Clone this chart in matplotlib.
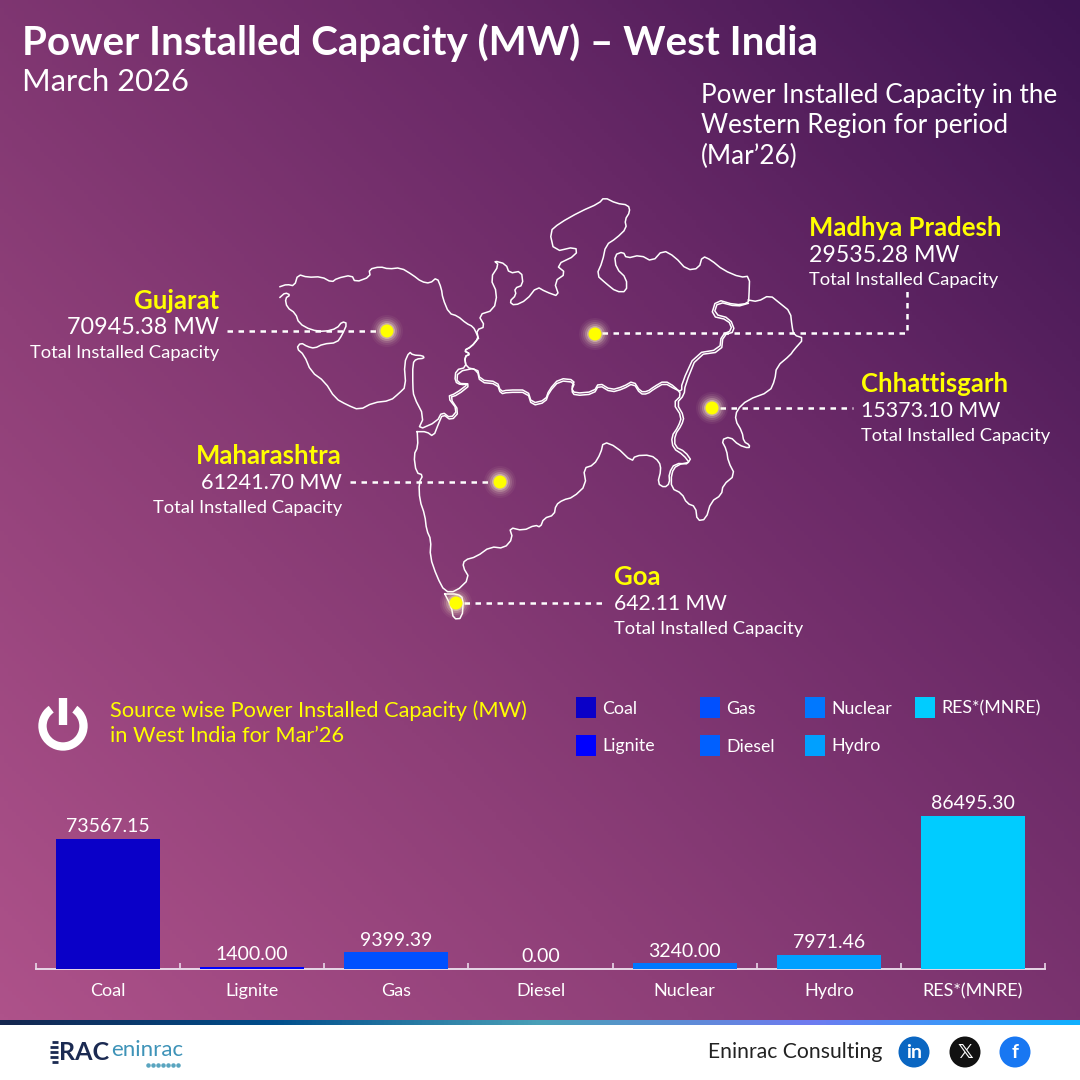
import numpy as np
import matplotlib
matplotlib.use("Agg")
import matplotlib.pyplot as plt
from matplotlib.colors import LinearSegmentedColormap
from matplotlib.patches import Arc, Circle, Rectangle

plt.rcParams["font.family"] = ["Lato", "DejaVu Sans"]

# -----------------------------
# Data
# -----------------------------
sources = ["Coal", "Lignite", "Gas", "Diesel", "Nuclear", "Hydro", "RES*(MNRE)"]
capacity = [73567.15, 1400.00, 9399.39, 0.00, 3240.00, 7971.46, 86495.30]
capacity_labels = ["73567.15", "1400.00", "9399.39", "0.00", "3240.00", "7971.46", "86495.30"]
source_colors = ["#0A00C8", "#0000FF", "#0050FF", "#0060FF", "#0078FF", "#00A0FF", "#00CCFF"]

states = ["Gujarat", "Madhya Pradesh", "Chhattisgarh", "Maharashtra", "Goa"]
state_values = ["70945.38 MW", "29535.28 MW", "15373.10 MW", "61241.70 MW", "642.11 MW"]

# map outlines (crop coordinates)
gujarat = [(0,290),(20,283),(42,288),(52,253),(80,262),(120,260),(150,277),(165,265),(208,255),(218,277),
           (262,260),(258,238),(290,230),(315,237),(350,233),(385,255),(410,275),(435,280),(455,262),(468,295),
           (472,325),(490,370),(515,378),(540,400),(560,410),(570,430),(575,445),(555,470),(533,482),(552,492),
           (535,500),(540,532),(510,540),(507,575),(525,585),(548,580),(510,610),(485,620),(515,660),(495,685),
           (470,665),(455,695),(400,720),(418,680),(388,620),(385,590),(385,520),(395,507),(418,505),(415,497),
           (385,495),(375,485),(360,520),(365,590),(345,610),(320,632),(270,638),(230,660),(195,645),(160,625),
           (130,575),(90,545),(70,495),(48,475),(60,458),(80,470),(100,475),(125,462),(165,458),(180,435),
           (195,400),(180,395),(165,415),(130,425),(90,420),(55,400),(45,370),(20,352),(15,325),(30,315),
           (15,308),(0,322)]
maharashtra = [(398,725),(400,770),(388,795),(395,848),(415,855),(403,878),(405,930),(420,975),(425,1020),(438,1050),
               (435,1100),(455,1160),(478,1205),(510,1205),(550,1165),(530,1130),(535,1110),(570,1100),(610,1070),(650,1075),
               (675,1045),(665,1012),(705,1022),(740,1005),(755,1012),(765,985),(795,975),(800,945),(820,930),(850,922),
               (888,885),(880,835),(910,825),(930,790),(938,755),(975,770),(1020,815),(1030,797),(1075,795),(1100,815),
               (1105,840),(1095,880),(1115,893),(1130,880),(1128,850),(1145,820),(1190,822),(1170,795),(1140,775),(1135,740),
               (1155,710),(1165,680),(1140,640),(1165,615),(1145,590),(1115,572),(1085,590),(1065,605),(1045,605),(1025,572),
               (995,590),(960,600),(925,578),(910,605),(855,610),(845,595),(855,570),(810,565),(780,600),(770,630),
               (730,640),(718,600),(660,600),(640,605),(630,575),(580,570),(572,533),(515,545),(513,580),(555,582),
               (515,615),(492,622),(520,665),(497,692),(472,672),(460,700),(445,740),(425,725),(398,725)]
madhya_pradesh = [(575,445),(570,420),(595,410),(575,375),(620,360),(630,310),(610,265),(635,225),(620,212),(655,222),
                  (665,250),(700,243),(705,285),(680,295),(685,315),(665,335),(680,347),(715,330),(745,290),(770,305),
                  (810,320),(795,275),(830,250),(800,225),(860,195),(858,170),(795,185),(782,125),(810,100),(870,65),
                  (925,40),(940,22),(975,40),(1010,45),(1015,65),(1000,90),(1005,115),(975,145),(945,165),(935,215),
                  (918,255),(945,280),(975,305),(1005,305),(1005,265),(975,235),(970,195),(995,185),(1005,205),(1045,195),
                  (1080,215),(1110,180),(1145,200),(1180,240),(1215,235),(1225,198),(1250,210),(1285,240),(1335,262),(1362,258),
                  (1360,320),(1358,340),(1320,345),(1265,328),(1250,378),(1300,390),(1312,420),(1280,435),(1275,478),(1205,490),
                  (1165,580),(1165,605),(1145,597),(1115,579),(1085,597),(1065,612),(1045,612),(1025,579),(995,597),(960,607),
                  (925,585),(910,612),(855,617),(845,602),(855,577),(810,572),(780,607),(770,637),(730,647),(718,607),
                  (660,607),(640,612),(630,582),(580,577),(572,540),(540,532),(535,500),(552,492),(533,482),(555,470),(575,445)]
chhattisgarh = [(1358,330),(1385,335),(1420,315),(1450,340),(1480,365),(1485,410),(1490,435),(1520,445),(1490,480),(1480,495),
                (1440,530),(1435,570),(1420,605),(1355,630),(1325,660),(1320,690),(1340,725),(1345,755),(1362,765),(1360,775),
                (1330,765),(1305,740),(1280,750),(1295,780),(1300,815),(1320,855),(1285,885),(1280,915),(1250,935),(1235,988),
                (1210,992),(1205,950),(1180,940),(1165,910),(1135,895),(1135,850),(1150,825),(1195,815),(1175,785),(1145,770),
                (1145,735),(1165,705),(1172,680),(1150,640),(1172,615),(1175,585),(1210,495),(1280,485),(1285,435),(1320,425),
                (1305,385),(1258,372),(1270,335),(1325,350),(1358,340)]
goa = [(478,1212),(515,1212),(532,1225),(528,1285),(503,1287),(497,1250),(478,1212)]


def rounded(pts, rounds=1):
    # corner cutting so the traced outline loses its hard kinks
    pts = np.array(pts, dtype=float)
    for _ in range(rounds):
        a = pts[:-1] * 0.75 + pts[1:] * 0.25
        b = pts[:-1] * 0.25 + pts[1:] * 0.75
        mid = np.empty((a.shape[0] * 2, 2))
        mid[0::2] = a
        mid[1::2] = b
        pts = np.vstack([pts[:1], mid, pts[-1:]])
    return pts


# -----------------------------
# Background
# -----------------------------
fig = plt.figure(figsize=(10.8, 10.8), dpi=100)
ax = fig.add_axes([0, 0, 1, 1])
ax.axis("off")

bg_cmap = LinearSegmentedColormap.from_list("bg", ["#AE528A", "#8E3F78", "#6B2A68", "#3D1452"])
gx, gy = np.meshgrid(np.linspace(0, 1, 270), np.linspace(0, 1, 270))
# gy runs downward, so the gradient goes from bottom-left to top-right
ax.imshow(gx * 0.52 + (1 - gy) * 0.48, cmap=bg_cmap, extent=[0, 1080, 1025, 0], aspect="auto", zorder=0, vmin=0, vmax=1)

# footer
ax.add_patch(Rectangle((0, 1025), 1080, 55, color="white", zorder=1))
bar_cmap = LinearSegmentedColormap.from_list("strip", ["#14264F", "#004E8C", "#4AA0B8", "#6F7BF0", "#10B0FF"])
ax.imshow(np.linspace(0, 1, 540).reshape(1, -1), cmap=bar_cmap, extent=[0, 1080, 1025, 1020], aspect="auto", zorder=2)
ax.set_xlim(0, 1080)
ax.set_ylim(1080, 0)

# -----------------------------
# Titles
# -----------------------------
ax.text(22, 43, "Power Installed Capacity (MW) – West India", color="white", fontsize=29.1, fontweight="bold", va="center")
ax.text(22, 82, "March 2026", color="white", fontsize=22.2, va="center")
ax.text(701, 126, "Power Installed Capacity in the\nWestern Region for period\n(Mar’26)", color="white",
        fontsize=18.8, va="center", linespacing=1.27)

# -----------------------------
# Map
# -----------------------------
for shape in [gujarat, maharashtra, madhya_pradesh, chhattisgarh, goa]:
    pts = rounded(shape)
    ax.plot(280 + pts[:, 0] / 2.9, 190 + pts[:, 1] / 3, color="white", lw=1.1, solid_joinstyle="round", zorder=3)


def leader(xs, ys):
    ax.plot(xs, ys, color="white", lw=1.8, dashes=(2.2, 2.2), zorder=4)


leader([227, 380], [331, 331])
leader([602, 907, 907], [333, 333, 290])
leader([720, 853], [408, 408])
leader([350, 493], [482, 482])
leader([464, 607], [603, 603])

dots = [(387, 331), (595, 334), (712, 408), (500, 482), (456, 603)]
for dx, dy in dots:
    for r, a in [(16, 0.05), (14, 0.08), (12, 0.12), (10, 0.22), (8, 0.35)]:
        ax.add_patch(Circle((dx, dy), r, color="#FFF8D0", alpha=a, lw=0, zorder=5))
    ax.add_patch(Circle((dx, dy), 6.5, color="#FFFF00", lw=0, zorder=6))

value_sizes = [16.8, 16.7, 15.4, 15.6, 15.2]


def state_label(x, y, i, ha):
    ax.text(x, y + 1, states[i], color="#FFFF00", fontsize=18.5, fontweight="bold", ha=ha, va="center", zorder=7)
    ax.text(x, y + 28, state_values[i], color="white", fontsize=value_sizes[i], ha=ha, va="center", zorder=7)
    ax.text(x, y + 53, "Total Installed Capacity", color="white", fontsize=13.2, ha=ha, va="center", zorder=7)


state_label(219, 300, 0, "right")
state_label(809, 227, 1, "left")
state_label(861, 383, 2, "left")
state_label(342, 455, 3, "right")
state_label(614, 576, 4, "left")

# -----------------------------
# Source heading and legend
# -----------------------------
ax.add_patch(Arc((63, 726), 41, 41, theta1=-55, theta2=235, color="white", lw=6, zorder=3))
ax.plot([63, 63], [698, 725], color="white", lw=6, solid_capstyle="butt", zorder=3)
ax.text(110, 723, "Source wise Power Installed Capacity (MW)\nin West India for Mar’26", color="#FFFF00",
        fontsize=15.7, va="center", linespacing=1.3)

legend_x = [576, 576, 700, 700, 805, 805, 915]
legend_y = [697, 735, 697, 735, 697, 735, 697]
legend_order = ["Coal", "Lignite", "Gas", "Diesel", "Nuclear", "Hydro", "RES*(MNRE)"]
for name, lx, ly in zip(legend_order, legend_x, legend_y):
    ax.add_patch(Rectangle((lx, ly), 20, 21, color=source_colors[sources.index(name)], lw=0, zorder=3))
    ax.text(lx + 26, ly + 11.5, name, color="white", fontsize=12.8, va="center", zorder=3)

# -----------------------------
# Bars
# -----------------------------
ax_bar = fig.add_axes([36 / 1080, (1080 - 969) / 1080, 1009 / 1080, 190 / 1080])
ax_bar.patch.set_alpha(0)
x = np.arange(len(sources))
ax_bar.bar(x, capacity, width=0.72, color=source_colors, zorder=5)
ax_bar.set_xlim(-0.5, 6.5)
ax_bar.set_ylim(0, 107412)
for xi, value, label in zip(x, capacity, capacity_labels):
    ax_bar.text(xi, value + 2000, label, color="white", fontsize=14, ha="center", va="bottom")
ax_bar.set_xticks(x)
ax_bar.set_xticklabels(sources, color="white", fontsize=13)
ax_bar.tick_params(axis="x", length=0, pad=10)
ax_bar.set_yticks([])
for side in ["top", "left", "right"]:
    ax_bar.spines[side].set_visible(False)
ax_bar.spines["bottom"].set_color("#E8D8E8")
ax_bar.spines["bottom"].set_linewidth(1.4)
ax_bar.spines["bottom"].set_zorder(1)
# separator ticks between the categories
ax_bar.set_xticks(np.arange(-0.5, 7, 1), minor=True)
ax_bar.tick_params(axis="x", which="minor", length=4, width=1.2, color="#E8D8E8", direction="in")

# -----------------------------
# Footer content
# -----------------------------
ax.text(882, 1052, "Eninrac Consulting", color="#222222", fontsize=15.2, ha="right", va="center", zorder=3)
for cx, col, sym, family in [(914, "#0A66C2", "in", "Lato"), (965, "#111111", "𝕏", "DejaVu Sans"), (1015, "#1877F2", "f", "Lato")]:
    ax.add_patch(Circle((cx, 1052), 15.5, color=col, lw=0, zorder=3))
    ax.text(cx, 1052, sym, color="white", fontsize=14, fontweight="bold", family=family, ha="center", va="center", zorder=4)

for sy, sw in [(1042, 6), (1047, 8), (1052, 8), (1057, 8), (1062, 6)]:
    ax.plot([58 - sw, 58], [sy, sy], color="#1B2A52", lw=2, solid_capstyle="butt", zorder=3)
ax.text(59, 1052, "RAC", color="#1B2A52", fontsize=18, fontweight="bold", va="center", zorder=3)
ax.text(111, 1050, "eninrac", color="#3E93B8", fontsize=16, va="center", zorder=4)
ax.scatter([148, 153, 158, 163, 168, 173, 178], [1065] * 7, s=5, color="#5AA5C0", zorder=4)

fig.savefig("out.png", dpi=100)
